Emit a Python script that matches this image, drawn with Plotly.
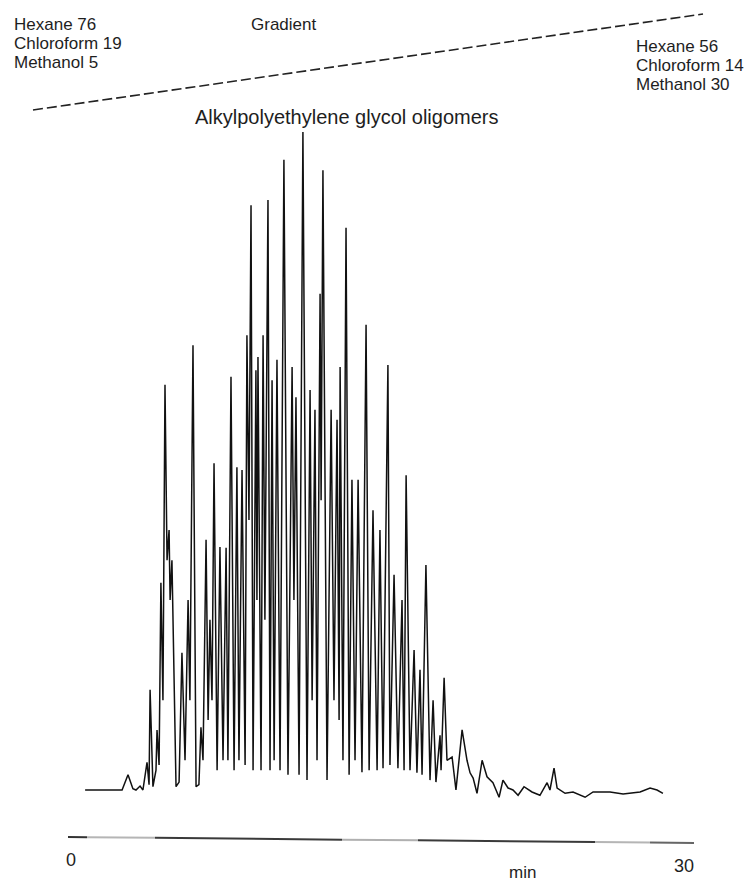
import plotly.graph_objects as go

# Chromatogram trace: retention time (min) and detector signal (% of tallest peak)
time_min = [0.69, 2.50, 2.79, 3.03, 3.18, 3.38, 3.52, 3.72, 3.82, 3.87, 4.01, 4.16, 4.21, 4.31, 4.40, 4.50,
            4.60, 4.70, 4.80, 4.85, 4.94, 5.14, 5.29, 5.43, 5.58, 5.73, 5.82, 5.97, 6.12, 6.26, 6.36, 6.46,
            6.61, 6.71, 6.80, 6.90, 7.00, 7.15, 7.29, 7.44, 7.59, 7.68, 7.83, 7.98, 8.12, 8.22, 8.37, 8.52,
            8.61, 8.71, 8.81, 8.91, 9.05, 9.10, 9.15, 9.30, 9.40, 9.49, 9.64, 9.74, 9.84, 9.94, 10.08, 10.23,
            10.42, 10.62, 10.82, 10.91, 11.01, 11.16, 11.35, 11.55, 11.70, 11.80, 11.94, 12.04, 12.19, 12.24,
            12.33, 12.53, 12.73, 12.87, 13.02, 13.12, 13.17, 13.31, 13.46, 13.61, 13.75, 13.90, 14.05, 14.24,
            14.44, 14.59, 14.78, 14.98, 15.12, 15.27, 15.51, 15.61, 15.81, 16.00, 16.20, 16.30, 16.40, 16.59,
            16.79, 16.93, 17.08, 17.18, 17.37, 17.57, 17.72, 17.86, 18.06, 18.11, 18.26, 18.40, 18.65, 18.84,
            19.14, 19.38, 19.53, 19.68, 19.87, 20.12, 20.36, 20.65, 20.95, 21.14, 21.39, 21.63, 21.88, 22.17,
            22.56, 22.95, 23.30, 23.44, 23.64, 23.79, 24.18, 24.57, 25.16, 25.55, 26.38, 27.02, 27.85, 28.34,
            28.68, 28.97]
signal = [0, 0, 2.3, 0.2, 0, 0.6, 0, 4.2, 0.8, 15.2, 0.5, 3.0, 9.1, 3.8, 31.4, 13.6,
          61.4, 34.8, 39.4, 28.8, 34.8, 0.5, 1.2, 20.8, 4.5, 28.8, 13.6, 67.4, 0.5, 0.8, 9.5, 4.5,
          37.9, 10.6, 25.8, 13.6, 49.5, 3.0, 36.8, 4.5, 36.7, 4.5, 62.6, 3.0, 48.9, 4.5, 48.5, 3.8,
          68.9, 40.9, 88.6, 3.0, 63.6, 28.8, 65.6, 3.0, 68.9, 25.8, 89.4, 3.0, 62.1, 4.5, 65.2, 3.0,
          95.5, 2.3, 64.1, 28.8, 59.5, 2.3, 99.7, 1.5, 60.6, 13.6, 57.6, 4.5, 75.2, 43.9,
          93.9, 1.5, 57.6, 13.6, 56.1, 10.6, 64.1, 4.5, 85.2, 2.3, 47.0, 4.5, 47.0, 2.7,
          70.5, 3.0, 42.4, 3.0, 39.4, 3.3, 64.4, 3.8, 32.6, 3.3, 28.8, 3.0, 47.7, 3.0,
          21.2, 2.6, 18.2, 2.3, 34.1, 1.5, 13.6, 1.2, 8.3, 3.0, 17.0, 4.5, 5.0, 0,
          9.1, 4.5, 2.6, 1.8, -0.5, 4.5, 2.0, 1.1, -1.1, 1.5, 0.3, 0, -0.8, 0.5,
          -0.3, -0.8, 1.1, 0, 3.3, 0.3, -0.5, -0.3, -1.1, -0.3, -0.3, -0.6, -0.3, 0.3,
          0, -0.5]

time_labels = ["0", "30"]
time_label_values = [0, 30]
start_mix = ["Hexane 76", "Chloroform 19", "Methanol 5"]
end_mix = ["Hexane 56", "Chloroform 14", "Methanol 30"]

W, H = 754, 882
FONT = "Arial, Liberation Sans, Helvetica, sans-serif"
TXT = "#1e1e1e"


def px(x):
    return x / W


def py(y):
    return 1 - y / H


fig = go.Figure()
fig.add_trace(go.Scatter(x=time_min, y=signal, mode="lines",
                         line=dict(color="#111111", width=1.5), hoverinfo="skip"))

annotations = []


def label(text, x, y, size=17, xanchor="left"):
    annotations.append(dict(text=text, x=px(x), y=py(y), xref="paper", yref="paper",
                            xanchor=xanchor, yanchor="middle", showarrow=False,
                            font=dict(family=FONT, size=size, color=TXT)))


for i, t in enumerate(start_mix):
    label(t, 12, 25 + i * 19)
for i, t in enumerate(end_mix):
    label(t, 634, 46 + i * 19)
label("Gradient", 283, 25, xanchor="center")
label("Alkylpolyethylene glycol oligomers", 193, 117, size=20)
label("min", 522, 872, xanchor="center")

# time tick labels placed on the data x-axis
for t, v in zip(time_labels, time_label_values):
    annotations.append(dict(text=t, x=v, y=py(860 if v == 0 else 866), xref="x", yref="paper",
                            xanchor="center", yanchor="middle", showarrow=False,
                            font=dict(family=FONT, size=18, color=TXT)))

shapes = [dict(type="line", xref="paper", yref="paper", x0=px(33), y0=py(110), x1=px(703), y1=py(14),
               line=dict(color="#222222", width=1.6, dash="10px,4px"))]

# bottom time bar (slightly sloping, uneven tone as in the scan)
segs = [(68, 87, "#333333"), (87, 155, "#b5b5b5"), (155, 342, "#3a3a3a"), (342, 418, "#b0b0b0"),
        (418, 595, "#3a3a3a"), (595, 650, "#b5b5b5"), (650, 694, "#666666")]
for a, b, c in segs:
    ya = 837 + (a - 68) * 6 / 626
    yb = 837 + (b - 68) * 6 / 626
    shapes.append(dict(type="line", xref="paper", yref="paper", x0=px(a), y0=py(ya), x1=px(b), y1=py(yb),
                       line=dict(color=c, width=2)))

x0_px, x_per_min = 71, 613 / 30
y0_px, y_per_unit = 790, 6.6
fig.update_layout(
    width=W, height=H, margin=dict(l=0, r=0, t=0, b=0),
    paper_bgcolor="white", plot_bgcolor="white", showlegend=False,
    xaxis=dict(range=[-x0_px / x_per_min, (W - x0_px) / x_per_min], visible=False, fixedrange=True),
    yaxis=dict(range=[-(H - y0_px) / y_per_unit, y0_px / y_per_unit], visible=False, fixedrange=True),
    annotations=annotations, shapes=shapes,
)

fig.write_html("out.html")
